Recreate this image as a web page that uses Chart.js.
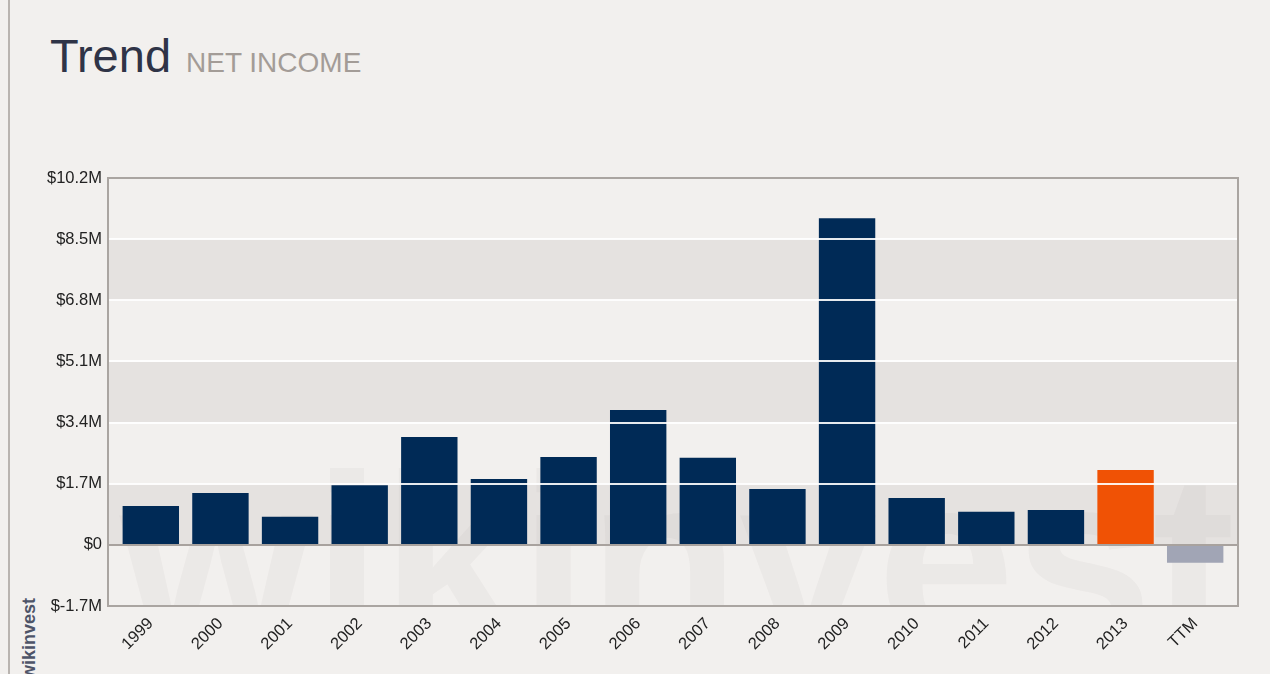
<!DOCTYPE html>
<html>
<head>
<meta charset="utf-8">
<script src="https://cdn.jsdelivr.net/npm/chart.js@4.4.1/dist/chart.umd.min.js"></script>
<style>
  body { margin: 0; background: #f2f0ee; font-family: "Liberation Sans", Arial, sans-serif; }
  #wrap { position: relative; width: 1270px; height: 674px; overflow: hidden; }
  #edge { position: absolute; left: 8px; top: 0; width: 2px; height: 674px; background: #b9b4b0; }
  #title { position: absolute; left: 50px; top: 28px; white-space: nowrap; }
  #title .big { font-size: 47px; color: #2f3447; }
  #title .small { font-size: 28px; color: #a39c97; margin-left: 15px; }
  #brand { position: absolute; left: 20px; top: 679px; transform: rotate(-90deg); transform-origin: left top;
           font-size: 18px; line-height: 18px; font-weight: bold; color: #4e5468; }
  canvas { position: absolute; left: 0; top: 0; }
</style>
</head>
<body>
<div id="wrap">
  <div id="edge"></div>
  <div id="title"><span class="big">Trend</span><span class="small">NET INCOME</span></div>
  <div id="brand">wikinvest</div>
  <canvas id="chart" width="1270" height="674"></canvas>
</div>
<script>
// data (millions of $)
const years = ["1999", "2000", "2001", "2002", "2003", "2004", "2005", "2006",
               "2007", "2008", "2009", "2010", "2011", "2012", "2013", "TTM"];
const netIncome = [1.08, 1.44, 0.78, 1.66, 3.0, 1.83, 2.44, 3.75,
                   2.42, 1.55, 9.08, 1.30, 0.92, 0.97, 2.08, -0.5];
const tickValues = [-1.7, 0, 1.7, 3.4, 5.1, 6.8, 8.5, 10.2];
const tickLabels = ["$-1.7M", "$0", "$1.7M", "$3.4M", "$5.1M", "$6.8M", "$8.5M", "$10.2M"];

const barColors = years.map(y => {
  if (y === "TTM") return "#a1a5b5";
  if (y === "2013") return "#f05205";
  return "#002a56";
});

// the plot frame is a bit wider than the bar area
const FRAME_PAD = 8;

const backdrop = {
  id: "backdrop",
  beforeDatasetsDraw(chart) {
    const { ctx, chartArea: a } = chart;
    const y = chart.scales.y;
    const L = a.left - FRAME_PAD, R = a.right + FRAME_PAD;
    ctx.save();
    ctx.fillStyle = "#e5e2e0";
    [[6.8, 8.5], [3.4, 5.1], [0, 1.7]].forEach(([lo, hi]) => {
      const top = y.getPixelForValue(hi), bot = y.getPixelForValue(lo);
      ctx.fillRect(L, top, R - L, bot - top);
    });
    ctx.beginPath();
    ctx.rect(L, a.top, R - L, a.bottom - a.top);
    ctx.clip();
    ctx.font = "bold 240px 'Liberation Sans', Arial, sans-serif";
    const w = ctx.measureText("wikinvest").width;
    ctx.translate(L + 12, a.bottom + 36);
    ctx.scale(1115 / w, 1);
    ctx.fillStyle = "rgba(150,140,135,0.07)";
    ctx.fillText("wikinvest", 0, 0);
    ctx.restore();
  },
  afterDatasetsDraw(chart) {
    const { ctx, chartArea: a } = chart;
    const y = chart.scales.y;
    const L = a.left - FRAME_PAD, R = a.right + FRAME_PAD;
    ctx.save();
    ctx.lineWidth = 2;
    tickValues.forEach(v => {
      if (v === tickValues[0] || v === tickValues[tickValues.length - 1]) return;
      const py = Math.round(y.getPixelForValue(v));
      ctx.strokeStyle = v === 0 ? "#a8a29e" : "rgba(255,255,255,0.9)";
      ctx.beginPath();
      ctx.moveTo(L, py);
      ctx.lineTo(R, py);
      ctx.stroke();
    });
    ctx.strokeStyle = "#aaa5a1";
    ctx.strokeRect(L, a.top, R - L, a.bottom - a.top);
    ctx.restore();
  }
};

new Chart(document.getElementById("chart").getContext("2d"), {
  type: "bar",
  data: {
    labels: years,
    datasets: [{
      data: netIncome,
      backgroundColor: barColors,
      borderWidth: 0,
      categoryPercentage: 1,
      barPercentage: 0.81
    }]
  },
  options: {
    responsive: false,
    animation: false,
    layout: { padding: { top: 178, right: 32 + FRAME_PAD, left: 0, bottom: 0 } },
    plugins: {
      legend: { display: false },
      tooltip: { enabled: false }
    },
    scales: {
      x: {
        grid: { display: false },
        border: { display: false },
        ticks: {
          color: "#222",
          font: { size: 16.5, family: "'Liberation Sans', Arial, sans-serif" },
          maxRotation: 45,
          minRotation: 45,
          padding: 0
        },
        afterFit(scale) { scale.height = 68; }
      },
      y: {
        min: -1.7,
        max: 10.2,
        afterBuildTicks(scale) { scale.ticks = tickValues.map(v => ({ value: v })); },
        afterFit(scale) { scale.width = 108 + FRAME_PAD; },
        border: { display: false },
        grid: { display: false },
        ticks: {
          color: "#222",
          padding: 6,
          font: { size: 16.5, family: "'Liberation Sans', Arial, sans-serif" },
          callback: (v, i) => tickLabels[i]
        }
      }
    }
  },
  plugins: [backdrop]
});
</script>
</body>
</html>
